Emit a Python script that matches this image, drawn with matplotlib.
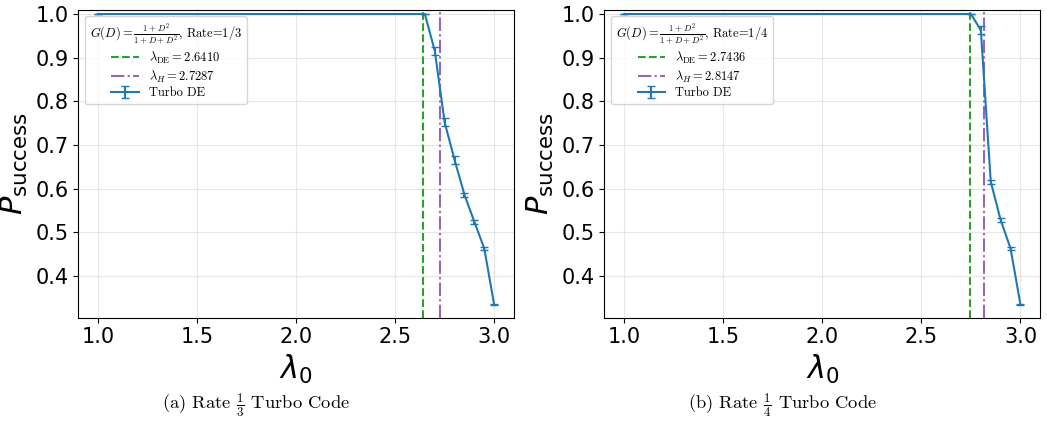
import numpy as np
import matplotlib
matplotlib.use("Agg")
import matplotlib.pyplot as plt
from matplotlib.font_manager import FontProperties

# rate 1/3 turbo code
lam_a = [1.0, 2.65, 2.70, 2.75, 2.80, 2.85, 2.90, 2.95, 3.00]
ps_a = [1.0, 1.0, 0.916, 0.752, 0.666, 0.586, 0.524, 0.463, 0.334]
err_a = [0.0, 0.0, 0.009, 0.009, 0.009, 0.005, 0.004, 0.003, 0.001]
lam_de_a = 2.6410
lam_h_a = 2.7287

# rate 1/4 turbo code
lam_b = [1.0, 2.75, 2.80, 2.85, 2.90, 2.95, 3.00]
ps_b = [1.0, 1.0, 0.963, 0.616, 0.528, 0.463, 0.334]
err_b = [0.0, 0.0, 0.009, 0.005, 0.004, 0.003, 0.001]
lam_de_b = 2.7436
lam_h_b = 2.8147

xticks = [1.0, 1.5, 2.0, 2.5, 3.0]
yticks = [0.4, 0.5, 0.6, 0.7, 0.8, 0.9, 1.0]

fig = plt.figure(figsize=(10.47, 4.4), dpi=100)
ax1 = fig.add_axes([0.0748, 0.278, 0.4161, 0.699])
ax2 = fig.add_axes([0.5772, 0.278, 0.4164, 0.699])

leg_prop = FontProperties(family="cmr10", size=9, math_fontfamily="cm")
title_prop = FontProperties(family="cmr10", size=9, math_fontfamily="cm")

def draw(ax, lam, ps, err, lde, lh, rate):
    ax.axvline(lde, color="tab:green", ls="--", lw=1.5,
               label=r"$\lambda_{\mathrm{DE}} = %.4f$" % lde)
    ax.axvline(lh, color="tab:purple", ls="-.", lw=1.5,
               label=r"$\lambda_H = %.4f$" % lh)
    ax.errorbar(lam, ps, yerr=err, color="tab:blue", lw=1.5, capsize=3,
                label="Turbo DE")
    ax.set_xlim(0.9, 3.1)
    ax.set_ylim(0.3045, 1.009)
    ax.set_xticks(xticks)
    ax.set_yticks(yticks)
    ax.tick_params(labelsize=15)
    ax.grid(True, alpha=0.3)
    ax.set_xlabel(r"$\lambda_0$", fontsize=22)
    ax.set_ylabel(r"$P_{\rm success}$", fontsize=22)
    leg = ax.legend(loc="upper left", prop=leg_prop, labelspacing=0.2,
                    borderpad=0.4, handlelength=2.2,
                    title=r"$G(D) = \frac{1+D^2}{1+D+D^2}$, Rate=%s" % rate,
                    title_fontproperties=title_prop)
    return leg

draw(ax1, lam_a, ps_a, err_a, lam_de_a, lam_h_a, "1/3")
draw(ax2, lam_b, ps_b, err_b, lam_de_b, lam_h_b, "1/4")

cap_kw = dict(family="cmr10", math_fontfamily="cm", fontsize=13.3, ha="center", va="center")
fig.text(256 / 1047, 1 - 405 / 440, r"(a) Rate $\frac{1}{3}$ Turbo Code", **cap_kw)
fig.text(782 / 1047, 1 - 405 / 440, r"(b) Rate $\frac{1}{4}$ Turbo Code", **cap_kw)

fig.savefig("out.png", dpi=100)
